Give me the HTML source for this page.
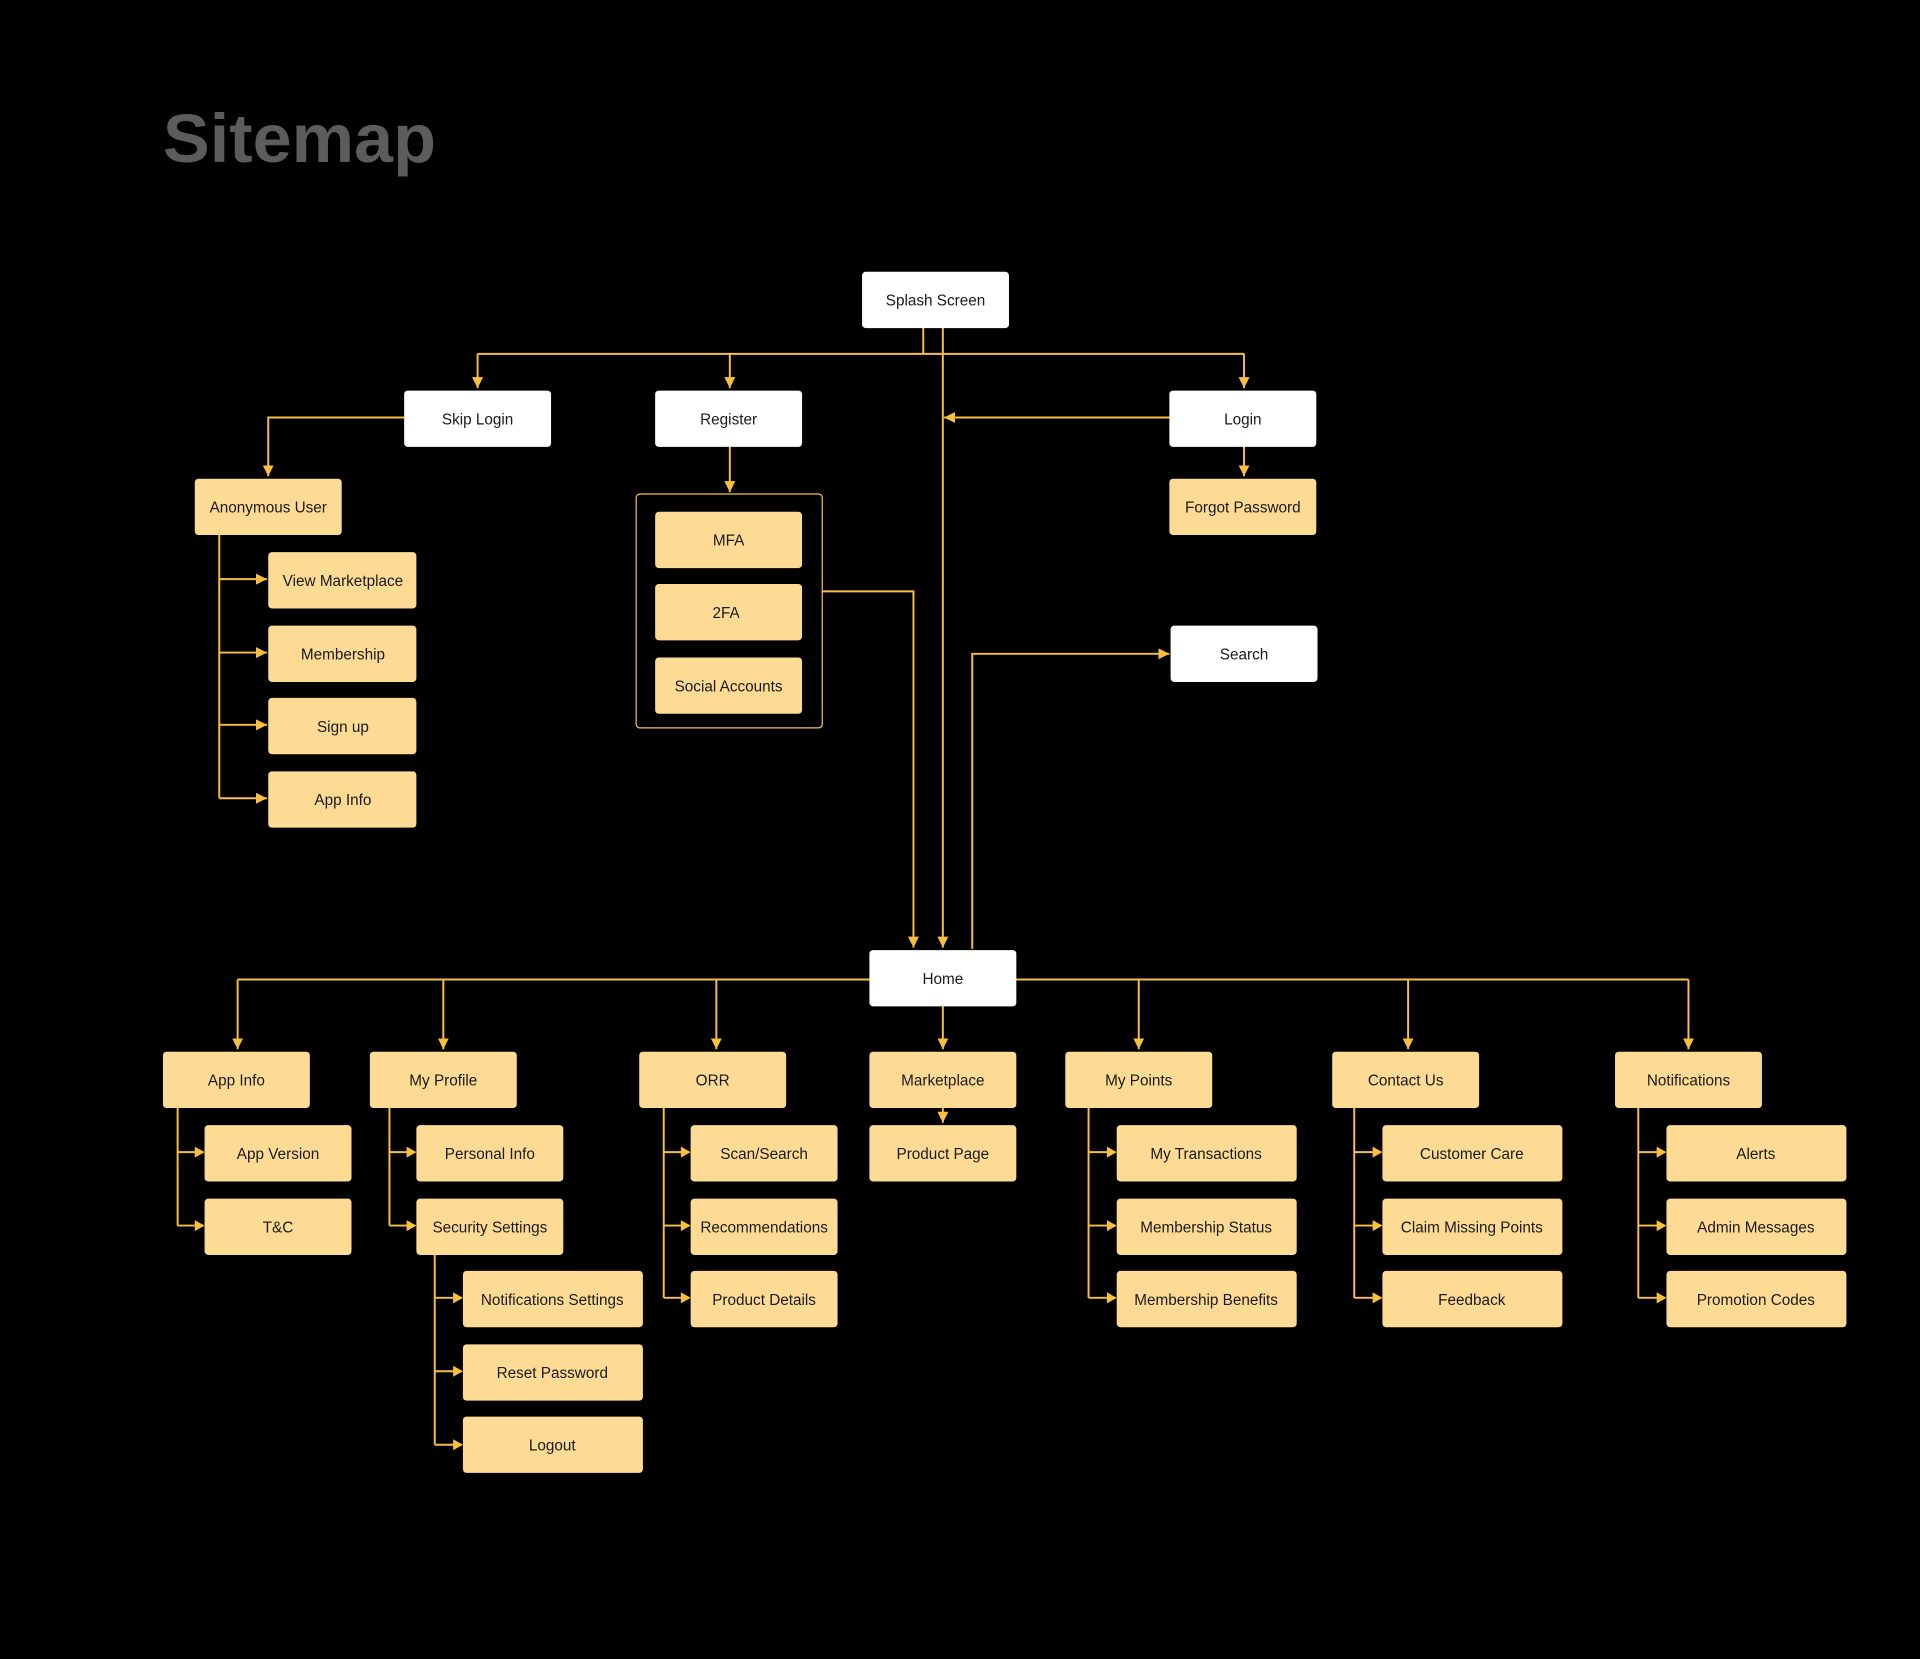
<!DOCTYPE html>
<html><head><meta charset="utf-8"><style>
html,body{margin:0;padding:0;background:#000;}
svg{display:block;}
text{font-family:"Liberation Sans",sans-serif;font-size:12.5px;fill:#1a1a1a;text-anchor:middle;dominant-baseline:central;}
.y{fill:#FEDB94;}
.w{fill:#fff;}
.l{stroke:#F9C03F;stroke-width:1.6;fill:none;}
</style></head><body>
<svg width="1920" height="1659" viewBox="0 0 1568 1355" xmlns="http://www.w3.org/2000/svg">
<defs><marker id="a" viewBox="0 0 10 10" refX="10" refY="5" markerWidth="9" markerHeight="9" orient="auto" markerUnits="userSpaceOnUse"><path d="M0,0L10,5L0,10z" fill="#F9C03F"/></marker></defs>
<rect width="1568" height="1355" fill="#000"/>
<text x="133" y="113" style="font-size:56px;font-weight:bold;fill:#5e5c5b;text-anchor:start" textLength="223" lengthAdjust="spacingAndGlyphs">Sitemap</text>

<g class="l">
<path d="M754,267V289"/>
<path d="M390,289H1016"/>
<path d="M390,289V317" marker-end="url(#a)"/>
<path d="M596,289V317" marker-end="url(#a)"/>
<path d="M1016,289V317" marker-end="url(#a)"/>
<path d="M770,267V774" marker-end="url(#a)"/>
<path d="M955,341H771" marker-end="url(#a)"/>
<path d="M330,341H219V389" marker-end="url(#a)"/>
<path d="M179,436V652"/>
<path d="M179,473H218" marker-end="url(#a)"/>
<path d="M179,533H218" marker-end="url(#a)"/>
<path d="M179,592H218" marker-end="url(#a)"/>
<path d="M179,652H218" marker-end="url(#a)"/>
<path d="M596,364V402" marker-end="url(#a)"/>
<path d="M671,483H746V774" marker-end="url(#a)"/>
<path d="M1016,364V389" marker-end="url(#a)"/>
<path d="M794,775V534H955" marker-end="url(#a)"/>
<path d="M194,800H1379"/>
<path d="M194,800V857" marker-end="url(#a)"/>
<path d="M362,800V857" marker-end="url(#a)"/>
<path d="M585,800V857" marker-end="url(#a)"/>
<path d="M930,800V857" marker-end="url(#a)"/>
<path d="M1150,800V857" marker-end="url(#a)"/>
<path d="M1379,800V857" marker-end="url(#a)"/>
<path d="M770,821V857" marker-end="url(#a)"/>
<path d="M770,904V917" marker-end="url(#a)"/>
<path d="M145,904V1001M145,941H166M145,1001H166"/>
<path d="M318,904V1001M318,941H339M318,1001H339"/>
<path d="M355,1024V1180M355,1060H377M355,1120H377M355,1180H377"/>
<path d="M542,904V1060M542,941H563M542,1001H563M542,1060H563"/>
<path d="M889,904V1060M889,941H911M889,1001H911M889,1060H911"/>
<path d="M1106,904V1060M1106,941H1128M1106,1001H1128M1106,1060H1128"/>
<path d="M1338,904V1060M1338,941H1360M1338,1001H1360M1338,1060H1360"/>
</g>
<g fill="#F9C03F">
<path d="M167,941l-8,-4.5v9z M167,1001l-8,-4.5v9z M340,941l-8,-4.5v9z M340,1001l-8,-4.5v9z M378,1060l-8,-4.5v9z M378,1120l-8,-4.5v9z M378,1180l-8,-4.5v9z M564,941l-8,-4.5v9z M564,1001l-8,-4.5v9z M564,1060l-8,-4.5v9z M912,941l-8,-4.5v9z M912,1001l-8,-4.5v9z M912,1060l-8,-4.5v9z M1129,941l-8,-4.5v9z M1129,1001l-8,-4.5v9z M1129,1060l-8,-4.5v9z M1361,941l-8,-4.5v9z M1361,1001l-8,-4.5v9z M1361,1060l-8,-4.5v9z"/>
</g>
<rect x="519.5" y="403.5" width="152" height="191" rx="3" fill="none" stroke="#F9C03F" stroke-width="1"/>

<g transform="translate(0,1)">
<rect class="w" x="704" y="221" width="120" height="46" rx="3"/><text x="764" y="245">Splash Screen</text>
<rect class="w" x="330" y="318" width="120" height="46" rx="3"/><text x="390" y="342">Skip Login</text>
<rect class="w" x="535" y="318" width="120" height="46" rx="3"/><text x="595" y="342">Register</text>
<rect class="w" x="955" y="318" width="120" height="46" rx="3"/><text x="1015" y="342">Login</text>
<rect class="y" x="159" y="390" width="120" height="46" rx="3"/><text x="219" y="414">Anonymous User</text>
<rect class="y" x="219" y="450" width="121" height="46" rx="3"/><text x="280" y="474">View Marketplace</text>
<rect class="y" x="219" y="510" width="121" height="46" rx="3"/><text x="280" y="534">Membership</text>
<rect class="y" x="219" y="569" width="121" height="46" rx="3"/><text x="280" y="593">Sign up</text>
<rect class="y" x="219" y="629" width="121" height="46" rx="3"/><text x="280" y="653">App Info</text>
<rect class="y" x="535" y="417" width="120" height="46" rx="3"/><text x="595" y="441">MFA</text>
<rect class="y" x="535" y="476" width="120" height="46" rx="3"/><text x="593" y="500">2FA</text>
<rect class="y" x="535" y="536" width="120" height="46" rx="3"/><text x="595" y="560">Social Accounts</text>
<rect class="y" x="955" y="390" width="120" height="46" rx="3"/><text x="1015" y="414">Forgot Password</text>
<rect class="w" x="956" y="510" width="120" height="46" rx="3"/><text x="1016" y="534">Search</text>
<rect class="w" x="710" y="775" width="120" height="46" rx="3"/><text x="770" y="799">Home</text>

<rect class="y" x="133" y="858" width="120" height="46" rx="3"/><text x="193" y="882">App Info</text>
<rect class="y" x="302" y="858" width="120" height="46" rx="3"/><text x="362" y="882">My Profile</text>
<rect class="y" x="522" y="858" width="120" height="46" rx="3"/><text x="582" y="882">ORR</text>
<rect class="y" x="710" y="858" width="120" height="46" rx="3"/><text x="770" y="882">Marketplace</text>
<rect class="y" x="870" y="858" width="120" height="46" rx="3"/><text x="930" y="882">My Points</text>
<rect class="y" x="1088" y="858" width="120" height="46" rx="3"/><text x="1148" y="882">Contact Us</text>
<rect class="y" x="1319" y="858" width="120" height="46" rx="3"/><text x="1379" y="882">Notifications</text>

<rect class="y" x="167" y="918" width="120" height="46" rx="3"/><text x="227" y="942">App Version</text>
<rect class="y" x="167" y="978" width="120" height="46" rx="3"/><text x="227" y="1002">T&amp;C</text>
<rect class="y" x="340" y="918" width="120" height="46" rx="3"/><text x="400" y="942">Personal Info</text>
<rect class="y" x="340" y="978" width="120" height="46" rx="3"/><text x="400" y="1002">Security Settings</text>
<rect class="y" x="378" y="1037" width="147" height="46" rx="3"/><text x="451" y="1061">Notifications Settings</text>
<rect class="y" x="378" y="1097" width="147" height="46" rx="3"/><text x="451" y="1121">Reset Password</text>
<rect class="y" x="378" y="1156" width="147" height="46" rx="3"/><text x="451" y="1180">Logout</text>
<rect class="y" x="564" y="918" width="120" height="46" rx="3"/><text x="624" y="942">Scan/Search</text>
<rect class="y" x="564" y="978" width="120" height="46" rx="3"/><text x="624" y="1002">Recommendations</text>
<rect class="y" x="564" y="1037" width="120" height="46" rx="3"/><text x="624" y="1061">Product Details</text>
<rect class="y" x="710" y="918" width="120" height="46" rx="3"/><text x="770" y="942">Product Page</text>
<rect class="y" x="912" y="918" width="147" height="46" rx="3"/><text x="985" y="942">My Transactions</text>
<rect class="y" x="912" y="978" width="147" height="46" rx="3"/><text x="985" y="1002">Membership Status</text>
<rect class="y" x="912" y="1037" width="147" height="46" rx="3"/><text x="985" y="1061">Membership Benefits</text>
<rect class="y" x="1129" y="918" width="147" height="46" rx="3"/><text x="1202" y="942">Customer Care</text>
<rect class="y" x="1129" y="978" width="147" height="46" rx="3"/><text x="1202" y="1002">Claim Missing Points</text>
<rect class="y" x="1129" y="1037" width="147" height="46" rx="3"/><text x="1202" y="1061">Feedback</text>
<rect class="y" x="1361" y="918" width="147" height="46" rx="3"/><text x="1434" y="942">Alerts</text>
<rect class="y" x="1361" y="978" width="147" height="46" rx="3"/><text x="1434" y="1002">Admin Messages</text>
<rect class="y" x="1361" y="1037" width="147" height="46" rx="3"/><text x="1434" y="1061">Promotion Codes</text>
</g>
</svg>
</body></html>
